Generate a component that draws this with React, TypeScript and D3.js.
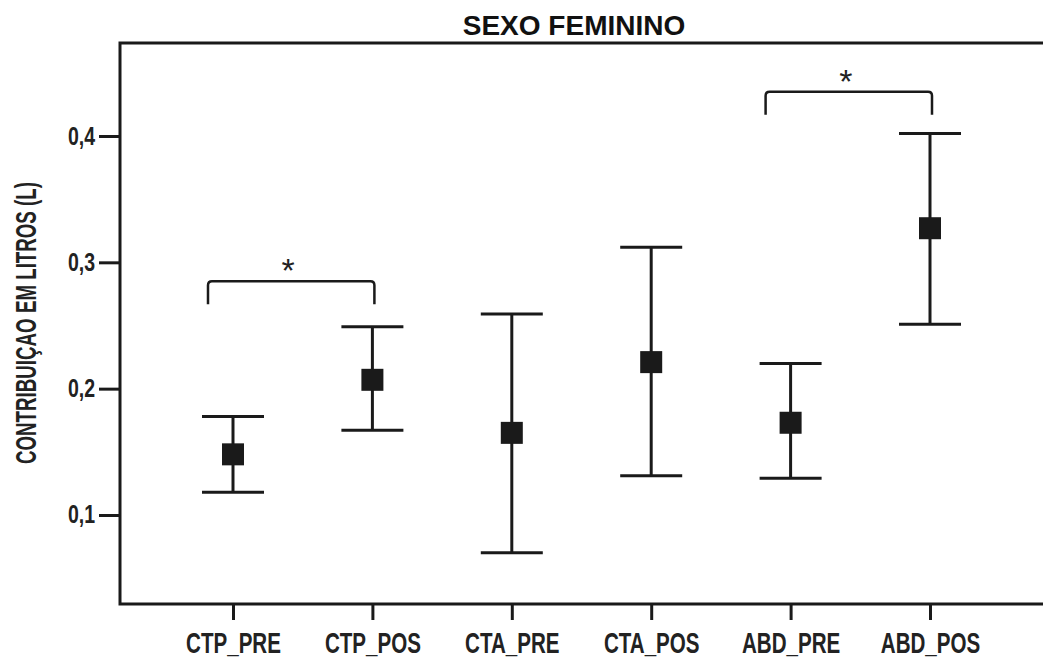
import * as d3 from 'd3';
import { useEffect, useRef } from 'react';

const categories = ['CTP_PRE', 'CTP_POS', 'CTA_PRE', 'CTA_POS', 'ABD_PRE', 'ABD_POS'];
const means = [0.148, 0.207, 0.165, 0.221, 0.173, 0.327];
const lower = [0.118, 0.167, 0.070, 0.131, 0.129, 0.251];
const upper = [0.178, 0.249, 0.259, 0.312, 0.220, 0.402];
const yTicks = [0.1, 0.2, 0.3, 0.4];
const brackets = [
  { from: 'CTP_PRE', to: 'CTP_POS', level: 0.285, label: '*' },
  { from: 'ABD_PRE', to: 'ABD_POS', level: 0.435, label: '*' },
];

const W = 1043;
const H = 657;
const sans = 'Arial, "Liberation Sans", sans-serif';

export default function App() {
  const ref = useRef<SVGSVGElement>(null);

  useEffect(() => {
    const svg = d3.select(ref.current);
    svg.selectAll('*').remove();

    const frame = { left: 120, top: 43, right: 1050, bottom: 604 };

    const x = d3.scalePoint<string>()
      .domain(categories)
      .range([233, 930]);
    const y = d3.scaleLinear()
      .domain([0, 0.4])
      .range([641.3, 136]);

    // frame
    svg.append('path')
      .attr('d', `M${frame.right},${frame.top}H${frame.left}V${frame.bottom}H${frame.right}`)
      .attr('fill', 'none')
      .attr('stroke', '#1a1a1a')
      .attr('stroke-width', 3);

    // Y axis
    const yAxis = svg.append('g')
      .attr('transform', `translate(${frame.left},0)`)
      .call(d3.axisLeft(y).tickValues(yTicks).tickSize(21)
        .tickFormat((d) => d3.format('.1f')(d as number).replace('.', ',')));
    yAxis.select('.domain').remove();
    yAxis.selectAll('line').attr('stroke', '#1a1a1a').attr('stroke-width', 3);
    yAxis.selectAll('text')
      .attr('x', 0)
      .attr('transform', 'translate(-25,0) scale(0.78,1)')
      .attr('fill', '#222')
      .style('font-family', sans)
      .style('font-weight', 'bold')
      .style('font-size', '25px');

    // X axis
    const xAxis = svg.append('g')
      .attr('transform', `translate(0,${frame.bottom})`)
      .call(d3.axisBottom(x).tickSize(16).tickPadding(12));
    xAxis.select('.domain').remove();
    xAxis.selectAll('line').attr('stroke', '#1a1a1a').attr('stroke-width', 3);
    xAxis.selectAll('text')
      .attr('transform', 'scale(0.71,1)')
      .attr('fill', '#222')
      .style('font-family', sans)
      .style('font-weight', 'bold')
      .style('font-size', '29px');

    // error bars
    const capW = 31;
    const g = svg.append('g').attr('stroke', '#1a1a1a').attr('stroke-width', 3);
    categories.forEach((c, i) => {
      const cx = x(c) as number;
      g.append('line').attr('x1', cx).attr('x2', cx).attr('y1', y(lower[i])).attr('y2', y(upper[i]));
      g.append('line').attr('x1', cx - capW).attr('x2', cx + capW).attr('y1', y(upper[i])).attr('y2', y(upper[i]));
      g.append('line').attr('x1', cx - capW).attr('x2', cx + capW).attr('y1', y(lower[i])).attr('y2', y(lower[i]));
    });

    // mean markers
    const s = 22;
    svg.append('g').selectAll('rect')
      .data(means)
      .enter()
      .append('rect')
      .attr('x', (d, i) => (x(categories[i]) as number) - s / 2)
      .attr('y', (d) => y(d) - s / 2)
      .attr('width', s)
      .attr('height', s)
      .attr('fill', '#1a1a1a');

    // significance brackets
    brackets.forEach((b) => {
      const x1 = (x(b.from) as number) - 25;
      const x2 = (x(b.to) as number) + 2;
      const by = y(b.level);
      const drop = 23;
      const r = 4;
      svg.append('path')
        .attr('d', `M${x1},${by + drop}V${by + r}Q${x1},${by} ${x1 + r},${by}H${x2 - r}Q${x2},${by} ${x2},${by + r}V${by + drop}`)
        .attr('fill', 'none')
        .attr('stroke', '#1a1a1a')
        .attr('stroke-width', 2.5);
      svg.append('text')
        .attr('x', (x1 + x2) / 2 - 3)
        .attr('y', by + 1)
        .attr('text-anchor', 'middle')
        .style('font-family', sans)
        .style('font-size', '34px')
        .attr('fill', '#222')
        .text(b.label);
    });

    // title
    svg.append('text')
      .attr('x', 574)
      .attr('y', 35)
      .attr('text-anchor', 'middle')
      .style('font-family', sans)
      .style('font-weight', 'bold')
      .style('font-size', '28px')
      .attr('fill', '#111')
      .text('SEXO FEMININO');

    // y title
    svg.append('text')
      .attr('transform', 'translate(36,323) rotate(-90)')
      .attr('text-anchor', 'middle')
      .attr('textLength', 282)
      .attr('lengthAdjust', 'spacingAndGlyphs')
      .style('font-family', sans)
      .style('font-weight', 'bold')
      .style('font-size', '30px')
      .attr('fill', '#222')
      .text('CONTRIBUIÇAO EM LITROS (L)');
  }, []);

  return (
    <svg
      ref={ref}
      width={W}
      height={H}
      style={{ position: 'absolute', left: 0, top: 0, background: '#fff' }}
    />
  );
}
